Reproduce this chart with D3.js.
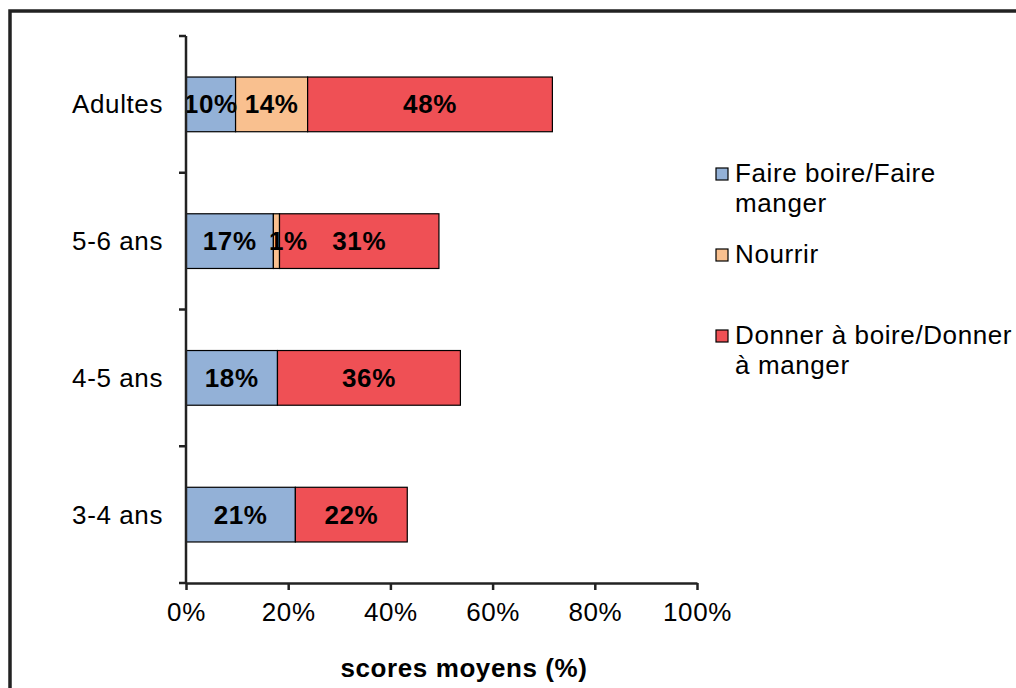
<!DOCTYPE html>
<html>
<head>
<meta charset="utf-8">
<script src="https://cdn.jsdelivr.net/npm/d3@7"></script>
<style>
  body { margin: 0; background: #fff; }
  text { font-family: "Liberation Sans", Arial, sans-serif; fill: #000; letter-spacing: 0.6px; }
</style>
</head>
<body>
<div id="chart"></div>
<script>
// data (percent of the mean score)
var categories = ["Adultes", "5-6 ans", "4-5 ans", "3-4 ans"];
var faireBoire = [9.7, 17.1, 17.9, 21.4];
var nourrir = [14.1, 1.2, 0, 0];
var donnerBoire = [47.9, 31.2, 35.8, 21.9];
var seriesNames = ["Faire boire/Faire manger", "Nourrir", "Donner à boire/Donner à manger"];
var legendLines = [["Faire boire/Faire", "manger"], ["Nourrir"], ["Donner à boire/Donner", "à manger"]];
var xTicks = [0, 20, 40, 60, 80, 100];
var colors = ["#93b1d7", "#f9c08f", "#ef5055"];

var width = 1016, height = 688;

var svg = d3.select("#chart").append("svg")
    .attr("width", width)
    .attr("height", height);

// outer frame (only top and left edges are visible)
svg.append("path")
    .attr("d", "M10," + height + "V11H" + width)
    .attr("fill", "none")
    .attr("stroke", "#222")
    .attr("stroke-width", 3.5);

var xScale = d3.scaleLinear().domain([0, 100]).range([186, 697]);
var yScale = d3.scaleBand().domain(categories).range([36, 583])
    .paddingInner(0.6).paddingOuter(0.3);

var rows = categories.map(function(c, i) {
    return { cat: c, s0: faireBoire[i], s1: nourrir[i], s2: donnerBoire[i] };
});
var stack = d3.stack().keys(["s0", "s1", "s2"]);
var layers = stack(rows);

svg.selectAll("g.layer")
    .data(layers)
    .enter()
    .append("g")
    .attr("class", "layer")
    .attr("fill", function(d, i) { return colors[i]; })
    .selectAll("rect")
    .data(function(d) { return d.filter(function(p) { return p[1] - p[0] > 0; }); })
    .enter()
    .append("rect")
    .attr("x", function(d) { return xScale(d[0]); })
    .attr("width", function(d) { return xScale(d[1]) - xScale(d[0]); })
    .attr("y", function(d) { return yScale(d.data.cat); })
    .attr("height", yScale.bandwidth())
    .attr("stroke", "#000")
    .attr("stroke-width", 1.2);

// value labels drawn on top of every bar
// (very thin segments get their label pushed a bit right, like Excel did)
var segments = [];
layers.forEach(function(layer) {
    layer.forEach(function(p) { if (p[1] - p[0] > 0) segments.push(p); });
});

svg.append("g")
    .selectAll("text")
    .data(segments)
    .enter()
    .append("text")
    .attr("x", function(d) {
        var w = xScale(d[1]) - xScale(d[0]);
        return (xScale(d[0]) + xScale(d[1])) / 2 + (w < 15 ? 12 : 0);
    })
    .attr("y", function(d) { return yScale(d.data.cat) + yScale.bandwidth() / 2 + 9; })
    .attr("text-anchor", "middle")
    .style("font-size", "26px")
    .style("font-weight", "bold")
    .text(function(d) { return Math.round(d[1] - d[0]) + "%"; });

// y axis: line with ticks at band boundaries
var yRange = yScale.range();
svg.append("line")
    .attr("x1", xScale(0)).attr("x2", xScale(0))
    .attr("y1", yRange[0]).attr("y2", yRange[1])
    .attr("stroke", "#222").attr("stroke-width", 2.5);

var boundaries = d3.range(categories.length + 1).map(function(i) {
    return yRange[0] + i * yScale.step();
});
svg.selectAll("line.ytick")
    .data(boundaries)
    .enter()
    .append("line")
    .attr("class", "ytick")
    .attr("x1", xScale(0) - 7).attr("x2", xScale(0))
    .attr("y1", function(d) { return d; })
    .attr("y2", function(d) { return d; })
    .attr("stroke", "#222").attr("stroke-width", 2.5);

svg.selectAll("text.ylabel")
    .data(categories)
    .enter()
    .append("text")
    .attr("class", "ylabel")
    .attr("x", 163)
    .attr("y", function(d) { return yScale(d) + yScale.bandwidth() / 2 + 9; })
    .attr("text-anchor", "end")
    .style("font-size", "26px")
    .text(function(d) { return d; });

// x axis
var xAxis = d3.axisBottom(xScale)
    .tickValues(xTicks)
    .tickFormat(function(d) { return d + "%"; })
    .tickSize(7)
    .tickSizeOuter(0)
    .tickPadding(13);

var xg = svg.append("g")
    .attr("transform", "translate(0," + yRange[1] + ")")
    .call(xAxis);
xg.select(".domain").attr("stroke", "#222").attr("stroke-width", 2.5);
xg.selectAll(".tick line").attr("stroke", "#222").attr("stroke-width", 2.5);
xg.selectAll(".tick text")
    .style("font-size", "26px")
    .style("font-family", "'Liberation Sans', Arial, sans-serif")
    .attr("fill", "#000");

// axis title
svg.append("text")
    .attr("x", 464)
    .attr("y", 677)
    .attr("text-anchor", "middle")
    .style("font-size", "26px")
    .style("font-weight", "bold")
    .text("scores moyens (%)");

// legend
var legend = svg.selectAll("g.legend")
    .data(seriesNames)
    .enter()
    .append("g")
    .attr("class", "legend")
    .attr("transform", function(d, i) { return "translate(716," + (182 + i * 81) + ")"; });

legend.append("rect")
    .attr("x", 0).attr("y", -14)
    .attr("width", 12).attr("height", 12)
    .attr("fill", function(d, i) { return colors[i]; })
    .attr("stroke", "#000")
    .attr("stroke-width", 1.2);

legend.append("text")
    .attr("x", 19)
    .style("font-size", "26px")
    .selectAll("tspan")
    .data(function(d, i) { return legendLines[i]; })
    .enter()
    .append("tspan")
    .attr("x", 19)
    .attr("dy", function(d, j) { return j === 0 ? 0 : 30; })
    .text(function(d) { return d; });
</script>
</body>
</html>
